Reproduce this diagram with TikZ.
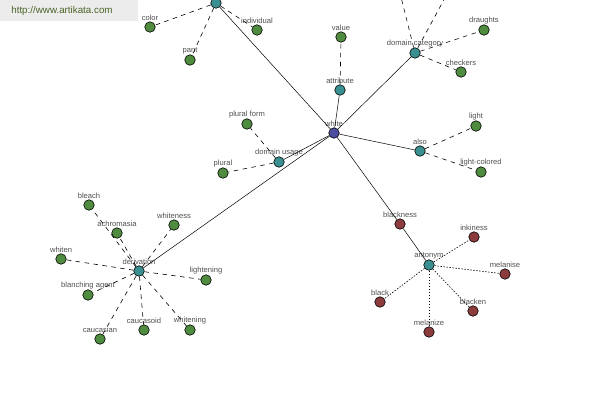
\documentclass[tikz,border=0pt]{standalone}
\usepackage{fontspec}
\setmainfont{Liberation Sans}
\definecolor{wgreen}{RGB}{80,140,64}
\definecolor{wteal}{RGB}{58,144,144}
\definecolor{wred}{RGB}{140,60,60}
\definecolor{wblue}{RGB}{76,76,160}
\definecolor{lblgray}{RGB}{80,80,80}
\definecolor{siteback}{RGB}{236,236,236}
\definecolor{sitetext}{RGB}{75,100,40}
\begin{document}
\begin{tikzpicture}[x=1pt,y=-1pt,
  word/.style={circle,draw=black,line width=0.6pt,inner sep=0pt,minimum size=10.5pt},
  leaf/.style={word,fill=wgreen},
  hub/.style={word,fill=wteal},
  anti/.style={word,fill=wred},
  every label/.style={text=lblgray,font=\fontsize{7.6}{9}\selectfont,inner sep=0.5pt},
  link/.style={line width=0.5pt},
  rel/.style={line width=0.6pt,dash pattern=on 4.5pt off 4.5pt},
  opp/.style={line width=0.6pt,dash pattern=on 1.5pt off 1.5pt}]
\clip (0,0) rectangle (600,400);
\fill[white] (0,0) rectangle (600,400);
\fill[siteback] (0,0) rectangle (138,21);
\node[text=sitetext,font=\fontsize{9.8}{11}\selectfont] (site) at (62,11) {http://www.artikata.com};
% centre word
\node[word,fill=wblue,label=above:white] (white) at (334,133) {};
% relation hubs
\node[hub] (top) at (216,3) {};
\node[hub,label=above:attribute] (attribute) at (340,90) {};
\node[hub,label=above:domain category] (domcat) at (415,53) {};
\node[hub,label=above:also] (also) at (420,151) {};
\node[hub,label=above:domain usage] (domusage) at (279,162) {};
\node[hub,label=above:derivation] (derivation) at (139,271) {};
\node[hub,label=above:antonym] (antonym) at (429,265) {};
\node[anti,label=above:blackness] (blackness) at (400,224) {};
% words
\node[leaf,label=above:color] (color) at (150,27) {};
\node[leaf,label=above:pant] (pant) at (190,60) {};
\node[leaf,label=above:individual] (individual) at (257,30) {};
\node[leaf,label=above:value] (value) at (341,37) {};
\node[leaf,label=above:draughts] (draughts) at (484,30) {};
\node[leaf,label=above:checkers] (checkers) at (461,72) {};
\coordinate (cat1) at (398,-15);
\coordinate (cat2) at (452,-15);
\node[leaf,label=above:light] (light) at (476,126) {};
\node[leaf,label=above:light-colored] (lightcol) at (481,172) {};
\node[leaf,label=above:plural form] (pluralform) at (247,124) {};
\node[leaf,label=above:plural] (plural) at (223,173) {};
\node[leaf,label=above:bleach] (bleach) at (89,205) {};
\node[leaf,label=above:achromasia] (achromasia) at (117,233) {};
\node[leaf,label=above:whiteness] (whiteness) at (174,225) {};
\node[leaf,label=above:whiten] (whiten) at (61,259) {};
\node[leaf,label=above:lightening] (lightening) at (206,280) {};
\node[leaf,label=above:blanching agent] (blanching) at (88,295) {};
\node[leaf,label=above:caucasian] (caucasian) at (100,339) {};
\node[leaf,label=above:caucasoid] (caucasoid) at (144,330) {};
\node[leaf,label=above:whitening] (whitening) at (190,330) {};
\node[anti,label=above:inkiness] (inkiness) at (474,237) {};
\node[anti,label=above:melanise] (melanise) at (505,274) {};
\node[anti,label=above:blacken] (blacken) at (473,311) {};
\node[anti,label=above:melanize] (melanize) at (429,332) {};
\node[anti,label=above:black] (black) at (380,302) {};
% links from the centre
\foreach \h in {top,attribute,domcat,also,domusage,derivation,blackness}
  \draw[link] (white) -- (\h);
\draw[link] (blackness) -- (antonym);
% relations
\foreach \w in {color,pant,individual}
  \draw[rel] (top) -- (\w);
\draw[rel] (attribute) -- (value);
\foreach \w in {draughts,checkers,cat1,cat2}
  \draw[rel] (domcat) -- (\w);
\foreach \w in {light,lightcol}
  \draw[rel] (also) -- (\w);
\foreach \w in {pluralform,plural}
  \draw[rel] (domusage) -- (\w);
\foreach \w in {bleach,achromasia,whiteness,whiten,lightening,blanching,caucasian,caucasoid,whitening}
  \draw[rel] (derivation) -- (\w);
\foreach \w in {inkiness,melanise,blacken,melanize,black}
  \draw[opp] (antonym) -- (\w);
\end{tikzpicture}
\end{document}
